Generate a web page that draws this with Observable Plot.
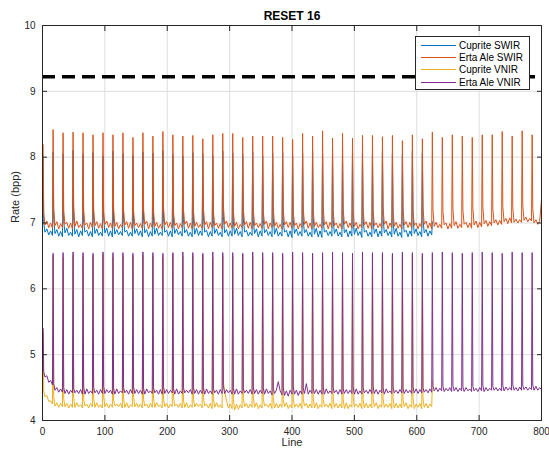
<!DOCTYPE html>
<html>
<head>
<meta charset="utf-8">
<script src="https://cdn.jsdelivr.net/npm/d3@7"></script>
<script src="https://cdn.jsdelivr.net/npm/@observablehq/plot@0.6"></script>
<style>
  body { margin: 0; background: #fff; }
  #wrap { position: relative; width: 549px; height: 452px; font-family: "Liberation Sans", Arial, Helvetica, sans-serif; }
  #legend { position: absolute; left: 415px; top: 36px; width: 115px; height: 54px; box-sizing: border-box;
    border: 1px solid #262626; background: #fff; padding: 2px 0 0 5px; }
  .row { display: flex; align-items: center; height: 12.4px; font-size: 10px; color: #000; white-space: nowrap; }
  .sw { display: inline-block; width: 35px; height: 1px; margin-right: 3px; }
</style>
</head>
<body>
<div id="wrap"><div id="legend"></div></div>
<script>
const title = "RESET 16";
const xLabel = "Line";
const yLabel = "Rate (bpp)";
const xTicks = [0, 100, 200, 300, 400, 500, 600, 700, 800];
const yTicks = [4, 5, 6, 7, 8, 9, 10];
const seriesNames = ["Cuprite SWIR", "Erta Ale SWIR", "Cuprite VNIR", "Erta Ale VNIR"];
const seriesColors = ["#0072BD", "#D95319", "#EDB120", "#7E2F8E"];
const thresholdRate = [9.22];

// lines at which the encoder resets (rate spike)
const spikeLines = [1,17,33,49,65,81,97,113,129,145,161,177,193,209,225,241,257,273,289,305,321,337,353,369,385,401,417,433,449,465,481,497,513,529,545,561,577,593,609,625,641,657,673,689,705,721,737,753,769,785];
// line offsets (after each spike) of the read baseline samples
const sampleOffsets = [1, 3, 6, 9, 12, 15];

// Erta Ale SWIR
const eaSwirPeaks = [8.19,8.42,8.37,8.38,8.37,8.34,8.37,8.34,8.37,8.30,8.37,8.32,8.39,8.34,8.32,8.33,8.28,8.34,8.36,8.36,8.30,8.32,8.32,8.32,8.30,8.27,8.36,8.32,8.40,8.29,8.36,8.29,8.33,8.33,8.31,8.33,8.25,8.34,8.28,8.38,8.30,8.34,8.32,8.30,8.34,8.34,8.39,8.32,8.40,8.34];
const eaSwirBase = [
[7.15,6.97,7.03,6.93,7.00,6.92],[7.22,6.96,7.02,6.91,6.99,6.93],[7.18,6.98,7.01,6.92,7.00,6.91],[7.24,6.95,7.03,6.93,6.98,6.92],[7.19,6.97,7.00,6.91,7.01,6.93],
[7.21,6.96,7.02,6.92,6.99,6.91],[7.17,6.98,7.03,6.93,7.00,6.92],[7.23,6.95,7.01,6.91,6.98,6.93],[7.20,6.97,7.02,6.92,7.01,6.91],[7.18,6.96,7.00,6.93,6.99,6.92],
[7.22,6.98,7.03,6.91,7.00,6.93],[7.19,6.95,7.01,6.92,6.98,6.91],[7.25,6.97,7.02,6.93,7.01,6.92],[7.17,6.96,7.00,6.91,6.99,6.93],[7.21,6.98,7.03,6.92,7.00,6.91],
[7.20,6.95,7.01,6.93,6.98,6.92],[7.23,6.97,7.02,6.91,7.01,6.93],[7.18,6.96,7.00,6.92,6.99,6.91],[7.26,6.98,7.03,6.93,7.00,6.92],[7.19,6.95,7.01,6.91,6.98,6.93],
[7.22,6.97,7.02,6.92,7.01,6.91],[7.20,6.96,7.00,6.93,6.99,6.92],[7.17,6.98,7.03,6.91,7.00,6.93],[7.24,6.95,7.01,6.92,6.98,6.91],[7.21,6.97,7.02,6.93,7.01,6.92],
[7.18,6.96,7.00,6.91,6.99,6.93],[7.23,6.98,7.03,6.92,7.00,6.91],[7.20,6.95,7.01,6.93,6.98,6.92],[7.25,6.97,7.02,6.91,7.01,6.93],[7.19,6.96,7.00,6.92,6.99,6.91],
[7.22,6.98,7.03,6.93,7.00,6.92],[7.17,6.95,7.01,6.91,6.98,6.93],[7.21,6.97,7.02,6.92,7.01,6.91],[7.20,6.96,7.00,6.93,6.99,6.92],[7.24,6.98,7.03,6.91,7.00,6.93],
[7.18,6.95,7.01,6.92,6.98,6.91],[7.22,6.97,7.02,6.93,7.01,6.92],[7.19,6.96,7.00,6.91,6.99,6.93],[7.23,6.98,7.03,6.92,7.00,6.91],[7.20,6.95,7.01,6.93,6.98,6.92],
[7.17,6.97,7.00,6.91,6.99,6.92],[7.21,6.96,7.02,6.92,6.98,6.93],[7.19,6.98,7.01,6.93,7.00,6.92],[7.22,6.97,7.03,6.93,7.01,6.94],[7.24,6.99,7.04,6.95,7.02,6.96],
[7.21,7.00,7.05,6.97,7.04,6.98],[7.25,7.02,7.07,6.99,7.08,7.00],[7.23,7.01,7.06,7.00,7.05,7.01],[7.26,7.04,7.09,7.02,7.07,7.03],[7.22,7.00,7.05,6.98,7.02,7.35]];

// Cuprite SWIR
const cupSwirPeaks = [8.00,8.08,8.05,8.10,8.04,8.07,8.02,8.09,8.05,8.03,8.08,8.06,8.10,8.04,8.02,8.07,8.05,8.03,8.09,8.06,8.04,8.08,8.02,8.05,8.07,8.03,8.06,8.09,8.04,8.05,8.02,8.08,8.06,8.03,8.07,8.05,8.04,8.09,8.06];
const cupSwirBase = [
[7.00,6.86,6.91,6.82,6.88,6.81],[7.05,6.84,6.90,6.80,6.87,6.79],[7.02,6.85,6.92,6.81,6.86,6.80],[7.06,6.83,6.90,6.79,6.88,6.81],[7.01,6.86,6.89,6.80,6.87,6.79],
[7.04,6.84,6.91,6.81,6.86,6.80],[7.08,6.85,6.92,6.80,6.88,6.79],[7.03,6.83,6.90,6.82,6.87,6.81],[7.05,6.86,6.89,6.80,6.86,6.80],[7.02,6.84,6.91,6.81,6.88,6.79],
[7.06,6.85,6.90,6.79,6.87,6.80],[7.04,6.83,6.92,6.81,6.86,6.81],[7.07,6.86,6.89,6.80,6.88,6.79],[7.01,6.84,6.91,6.82,6.87,6.80],[7.05,6.85,6.90,6.80,6.86,6.79],
[7.03,6.83,6.92,6.81,6.88,6.81],[7.08,6.86,6.89,6.79,6.87,6.80],[7.04,6.84,6.91,6.81,6.86,6.79],[7.10,6.85,6.90,6.80,6.88,6.80],[7.02,6.83,6.92,6.81,6.87,6.79],
[7.06,6.86,6.89,6.80,6.86,6.81],[7.03,6.84,6.91,6.79,6.88,6.80],[7.05,6.85,6.90,6.81,6.87,6.79],[7.07,6.83,6.92,6.80,6.86,6.80],[7.02,6.86,6.89,6.79,6.88,6.78],
[7.06,6.84,6.91,6.81,6.87,6.80],[7.04,6.85,6.90,6.80,6.86,6.79],[7.08,6.83,6.92,6.79,6.88,6.78],[7.03,6.86,6.89,6.81,6.87,6.80],[7.05,6.84,6.91,6.80,6.86,6.79],
[7.07,6.85,6.90,6.79,6.88,6.80],[7.02,6.83,6.92,6.81,6.87,6.78],[7.06,6.86,6.89,6.80,6.86,6.79],[7.04,6.84,6.91,6.79,6.88,6.80],[7.08,6.85,6.90,6.81,6.87,6.79],
[7.03,6.83,6.92,6.80,6.86,6.78],[7.06,6.86,6.89,6.79,6.88,6.80],[7.09,6.84,6.91,6.81,6.87,6.79],[7.05,6.85,6.90,6.80,6.88,6.82]];
const cupSwirTail = [[625, 7.02]];

// Cuprite VNIR
const cupVnirPeaks = [5.35,6.50,6.48,6.51,6.49,6.50,6.52,6.48,6.50,6.49,6.51,6.50,6.48,6.52,6.49,6.50,6.51,6.48,6.50,6.49,6.52,6.50,6.48,6.51,6.49,6.50,6.48,6.52,6.50,6.49,6.51,6.48,6.50,6.49,6.52,6.50,6.48,6.51,6.50];
const cupVnirBase = [
[4.44,4.36,4.38,4.29,4.30,4.25],[4.36,4.22,4.27,4.20,4.26,4.21],[4.33,4.21,4.26,4.19,4.25,4.20],[4.35,4.20,4.27,4.21,4.24,4.19],[4.32,4.22,4.25,4.19,4.26,4.21],
[4.34,4.20,4.27,4.20,4.24,4.19],[4.36,4.21,4.26,4.19,4.25,4.20],[4.31,4.22,4.25,4.21,4.26,4.19],[4.33,4.20,4.27,4.19,4.24,4.21],[4.35,4.21,4.26,4.20,4.25,4.19],
[4.32,4.22,4.25,4.19,4.26,4.20],[4.34,4.20,4.27,4.21,4.24,4.19],[4.33,4.21,4.26,4.19,4.25,4.21],[4.36,4.22,4.25,4.20,4.26,4.19],[4.31,4.20,4.27,4.19,4.24,4.20],
[4.34,4.21,4.26,4.21,4.25,4.19],[4.35,4.22,4.25,4.19,4.26,4.18],[4.33,4.20,4.27,4.20,4.24,4.19],[4.58,4.45,4.30,4.19,4.25,4.18],[4.32,4.16,4.25,4.17,4.24,4.19],
[4.34,4.21,4.26,4.19,4.25,4.20],[4.36,4.20,4.27,4.18,4.24,4.19],[4.33,4.22,4.25,4.20,4.26,4.18],[4.35,4.19,4.26,4.19,4.25,4.20],[4.32,4.21,4.27,4.18,4.24,4.19],
[4.34,4.20,4.25,4.20,4.26,4.18],[4.33,4.22,4.26,4.19,4.25,4.19],[4.35,4.19,4.27,4.18,4.24,4.20],[4.32,4.21,4.25,4.20,4.26,4.18],[4.34,4.20,4.26,4.19,4.25,4.19],
[4.33,4.18,4.27,4.18,4.24,4.20],[4.36,4.21,4.25,4.20,4.26,4.18],[4.32,4.19,4.26,4.19,4.25,4.19],[4.34,4.21,4.27,4.18,4.24,4.20],[4.33,4.20,4.25,4.20,4.26,4.18],
[4.35,4.19,4.26,4.19,4.25,4.19],[4.32,4.21,4.27,4.18,4.24,4.20],[4.34,4.18,4.25,4.20,4.26,4.18],[4.33,4.20,4.26,4.19,4.25,4.21]];
const cupVnirTail = [[625, 4.60]];

// Erta Ale VNIR
const eaVnirPeaks = [5.40,6.54,6.55,6.56,6.55,6.54,6.56,6.55,6.55,6.54,6.56,6.55,6.54,6.55,6.56,6.55,6.54,6.56,6.55,6.55,6.54,6.56,6.55,6.55,6.54,6.56,6.55,6.54,6.55,6.56,6.55,6.54,6.56,6.55,6.55,6.54,6.56,6.55,6.54,6.55,6.56,6.55,6.54,6.55,6.56,6.55,6.54,6.56,6.55,6.55];
const eaVnirBase = [
[4.74,4.66,4.68,4.58,4.61,4.54],[4.56,4.46,4.50,4.43,4.48,4.43],[4.50,4.41,4.47,4.40,4.46,4.42],[4.49,4.42,4.46,4.41,4.47,4.40],[4.51,4.40,4.48,4.41,4.45,4.41],
[4.50,4.42,4.46,4.40,4.47,4.41],[4.52,4.41,4.47,4.42,4.46,4.40],[4.49,4.40,4.48,4.41,4.45,4.42],[4.50,4.42,4.46,4.40,4.47,4.41],[4.51,4.41,4.47,4.41,4.46,4.40],
[4.49,4.40,4.48,4.42,4.45,4.41],[4.50,4.42,4.46,4.40,4.47,4.40],[4.52,4.41,4.47,4.41,4.46,4.42],[4.49,4.40,4.48,4.40,4.45,4.41],[4.50,4.42,4.46,4.42,4.47,4.40],
[4.51,4.41,4.47,4.40,4.46,4.41],[4.50,4.40,4.48,4.41,4.45,4.40],[4.49,4.42,4.46,4.40,4.47,4.41],[4.53,4.41,4.47,4.42,4.46,4.40],[4.50,4.40,4.48,4.40,4.45,4.41],
[4.49,4.42,4.46,4.41,4.47,4.40],[4.51,4.41,4.47,4.40,4.46,4.41],[4.50,4.40,4.48,4.41,4.45,4.39],[4.49,4.41,4.46,4.59,4.45,4.39],[4.51,4.38,4.45,4.37,4.46,4.40],
[4.52,4.40,4.46,4.38,4.45,4.40],[4.50,4.41,4.56,4.40,4.46,4.41],[4.49,4.41,4.47,4.40,4.46,4.40],[4.51,4.40,4.48,4.41,4.45,4.41],[4.50,4.42,4.46,4.40,4.47,4.40],
[4.49,4.41,4.47,4.41,4.46,4.41],[4.51,4.40,4.48,4.40,4.45,4.40],[4.50,4.42,4.46,4.41,4.47,4.41],[4.52,4.41,4.47,4.40,4.46,4.42],[4.50,4.40,4.48,4.42,4.45,4.41],
[4.51,4.42,4.46,4.41,4.47,4.42],[4.49,4.41,4.47,4.42,4.46,4.41],[4.51,4.42,4.48,4.41,4.47,4.42],[4.50,4.43,4.47,4.42,4.48,4.43],[4.53,4.45,4.50,4.44,4.49,4.45],
[4.52,4.44,4.49,4.45,4.50,4.44],[4.53,4.45,4.50,4.44,4.49,4.45],[4.51,4.44,4.50,4.45,4.48,4.44],[4.52,4.45,4.49,4.44,4.50,4.45],[4.53,4.44,4.50,4.45,4.49,4.46],
[4.52,4.46,4.50,4.45,4.49,4.45],[4.53,4.45,4.51,4.46,4.50,4.46],[4.54,4.46,4.50,4.45,4.51,4.46],[4.53,4.47,4.51,4.46,4.50,4.47],[4.54,4.46,4.52,4.46,4.50,4.47]];

function build(peaks, base, tail) {
  const rows = [];
  peaks.forEach((p, k) => {
    const s = spikeLines[k];
    rows.push({line: s, rate: p});
    (base[k] || []).forEach((v, j) => rows.push({line: s + sampleOffsets[j], rate: v}));
  });
  (tail || []).forEach(([l, r]) => rows.push({line: l, rate: r}));
  return rows;
}

const data = [
  build(cupSwirPeaks, cupSwirBase, cupSwirTail),
  build(eaSwirPeaks, eaSwirBase, []),
  build(cupVnirPeaks, cupVnirBase, cupVnirTail),
  build(eaVnirPeaks, eaVnirBase, [])
];

const chart = Plot.plot({
  width: 549,
  height: 452,
  marginLeft: 42,
  marginRight: 8,
  marginTop: 25,
  marginBottom: 32,
  style: {fontFamily: "'Liberation Sans', Arial, Helvetica, sans-serif", fontSize: "10px", color: "#262626", background: "#fff"},
  x: {domain: [0, 800], label: null},
  y: {domain: [4, 10], label: null},
  marks: [
    Plot.gridX(xTicks, {stroke: "#dedede", strokeOpacity: 1}),
    Plot.gridY(yTicks, {stroke: "#dedede", strokeOpacity: 1}),
    Plot.ruleY(thresholdRate, {stroke: "#000", strokeWidth: 3.5, strokeDasharray: "13,7"}),
    ...data.map((rows, i) => Plot.line(rows, {x: "line", y: "rate", stroke: seriesColors[i], strokeWidth: 1})),
    Plot.frame({stroke: "#262626"}),
    Plot.axisX(xTicks, {anchor: "bottom", tickSize: -5, tickPadding: 12, tickFormat: d => String(d), stroke: "#262626", fill: "#262626", fontSize: 10}),
    Plot.axisX(xTicks, {anchor: "top", tickSize: -5, tickFormat: () => "", stroke: "#262626"}),
    Plot.axisY(yTicks, {anchor: "left", tickSize: -5, tickPadding: 12, tickFormat: d => String(d), stroke: "#262626", fill: "#262626", fontSize: 10}),
    Plot.axisY(yTicks, {anchor: "right", tickSize: -5, tickFormat: () => "", stroke: "#262626"}),
    Plot.text([title], {text: d => d, frameAnchor: "top", dy: -6, lineAnchor: "bottom", fontWeight: "bold", fontSize: 12, fill: "#000"}),
    Plot.text([xLabel], {text: d => d, frameAnchor: "bottom", dy: 25, fontSize: 11, fill: "#262626"}),
    Plot.text([yLabel], {text: d => d, frameAnchor: "left", dx: -27, rotate: -90, fontSize: 11, fill: "#262626"})
  ]
});

const wrap = document.getElementById("wrap");
wrap.insertBefore(chart, wrap.firstChild);
chart.style.display = "block";

const legend = document.getElementById("legend");
seriesNames.forEach((name, i) => {
  const row = document.createElement("div");
  row.className = "row";
  const sw = document.createElement("span");
  sw.className = "sw";
  sw.style.background = seriesColors[i];
  const t = document.createElement("span");
  t.textContent = name;
  row.appendChild(sw);
  row.appendChild(t);
  legend.appendChild(row);
});
</script>
</body>
</html>
